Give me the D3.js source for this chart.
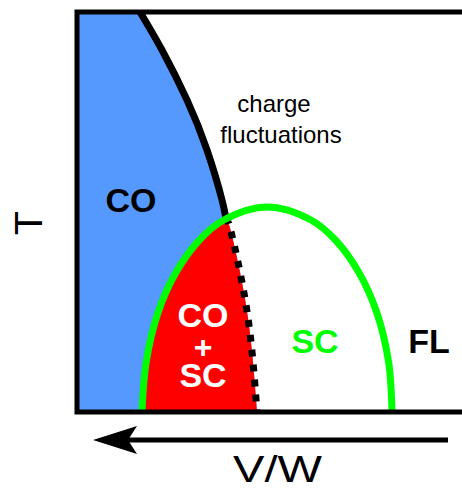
<!DOCTYPE html>
<html>
<head>
<meta charset="utf-8">
<script src="https://cdn.jsdelivr.net/npm/d3@7"></script>
<style>
    html, body { margin: 0; padding: 0; background: #fff; }
    svg { display: block; font-family: "Liberation Sans", Arial, sans-serif; }
</style>
</head>
<body>
<div id="graph"></div>
<script>
// phase boundaries, in chart units (V/W along x, T along y, both 0..100)
const coBoundary = [
    [15.75, 100], [21.25, 90.5], [27.5, 78], [32.5, 65.5], [36.25, 53], [37.25, 48.5],
    [38.25, 46], [40.75, 35], [42.75, 23.5], [44, 12.5], [45, 0]
];
const scDome = [
    [16.25, 0], [17.3, 12.5], [20.3, 25], [24.8, 35], [30.6, 43], [36.7, 48],
    [47.6, 51.25], [58.5, 48], [64.6, 43], [70.4, 35], [74.9, 25],
    [77.9, 12.5], [78.75, 0]
];
const regionLabels = ['CO', 'SC', 'FL'];
const regionLabelPos = [[13.5, 50], [59.5, 14.75], [88, 14.75]];
const mixedLabel = ['CO', '+', 'SC'];

const width = 462, height = 490;

const svg = d3.select('#graph')
    .append('svg')
    .attr('width', width)
    .attr('height', height);

const x = d3.scaleLinear().domain([0, 100]).range([77, 477]);
const y = d3.scaleLinear().domain([0, 100]).range([412, 12]);

const line = d3.line().x(d => x(d[0])).y(d => y(d[1])).curve(d3.curveNatural);
const domeLine = d3.line().x(d => x(d[0])).y(d => y(d[1])).curve(d3.curveCatmullRom);

const boundaryPath = line(coBoundary);
const domePath = domeLine(scDome) + 'Z';
const coShape = `M${x(0)},${y(100)}L` + boundaryPath.slice(1) + `L${x(0)},${y(0)}Z`;

const defs = svg.append('defs');
defs.append('clipPath')
    .attr('id', 'dome-in')
    .append('path')
    .attr('d', domePath);

defs.append('clipPath')
    .attr('id', 'dome-out')
    .append('path')
    .attr('clip-rule', 'evenodd')
    .attr('d', `M0,0H${width}V${height}H0Z` + domePath);

svg.append('path')
    .attr('d', coShape)
    .attr('fill', '#5599ff');

svg.append('path')
    .attr('d', coShape)
    .attr('fill', '#ff0000')
    .attr('clip-path', 'url(#dome-in)');

// solid above the dome, dotted inside it
svg.append('path')
    .attr('d', boundaryPath)
    .attr('fill', 'none')
    .attr('stroke', '#000')
    .attr('stroke-width', 7)
    .attr('clip-path', 'url(#dome-out)');

svg.append('path')
    .attr('d', boundaryPath)
    .attr('fill', 'none')
    .attr('stroke', '#000')
    .attr('stroke-width', 7)
    .attr('stroke-dasharray', '7,8')
    .attr('stroke-dashoffset', 1)
    .attr('clip-path', 'url(#dome-in)');

svg.append('path')
    .attr('d', domeLine(scDome))
    .attr('fill', 'none')
    .attr('stroke', '#00ff00')
    .attr('stroke-width', 7);

// frame
svg.append('path')
    .attr('d', `M${x(100)},${y(100)}H${x(0)}V${y(0)}H${x(100)}`)
    .attr('fill', 'none')
    .attr('stroke', '#000')
    .attr('stroke-width', 5);

// labels
const labelColors = ['#000', '#00ff00', '#000'];
svg.selectAll('.region')
    .data(regionLabels)
    .enter()
    .append('text')
    .attr('class', 'region')
    .attr('x', (d, i) => x(regionLabelPos[i][0]))
    .attr('y', (d, i) => y(regionLabelPos[i][1]))
    .attr('text-anchor', 'middle')
    .attr('font-size', 34)
    .attr('font-weight', 'bold')
    .attr('fill', (d, i) => labelColors[i])
    .text(d => d);

svg.selectAll('.mixed')
    .data(mixedLabel)
    .enter()
    .append('text')
    .attr('class', 'mixed')
    .attr('x', x(31.5))
    .attr('y', (d, i) => [327, 358, 387][i])
    .attr('text-anchor', 'middle')
    .attr('font-size', (d, i) => i === 1 ? 32 : 34)
    .attr('font-weight', 'bold')
    .attr('fill', '#fff')
    .text(d => d);

svg.append('text')
    .attr('x', 274)
    .attr('y', 112)
    .attr('text-anchor', 'middle')
    .attr('font-size', 24)
    .text('charge');

svg.append('text')
    .attr('x', 281)
    .attr('y', 143)
    .attr('text-anchor', 'middle')
    .attr('font-size', 24)
    .text('fluctuations');

// axis titles
svg.append('text')
    .attr('transform', 'translate(42, 223) rotate(-90)')
    .attr('text-anchor', 'middle')
    .attr('font-size', 39)
    .text('T');

svg.append('text')
    .attr('x', 233)
    .attr('y', 482)
    .attr('font-size', 36)
    .attr('textLength', 89)
    .attr('lengthAdjust', 'spacingAndGlyphs')
    .text('V/W');

// arrow towards smaller V/W
const ay = 440;
svg.append('line')
    .attr('x1', 128)
    .attr('x2', 448)
    .attr('y1', ay)
    .attr('y2', ay)
    .attr('stroke', '#000')
    .attr('stroke-width', 5);

svg.append('path')
    .attr('d', `M93,${ay}L137,${ay - 14}L128,${ay}L137,${ay + 14}Z`)
    .attr('fill', '#000');
</script>
</body>
</html>
